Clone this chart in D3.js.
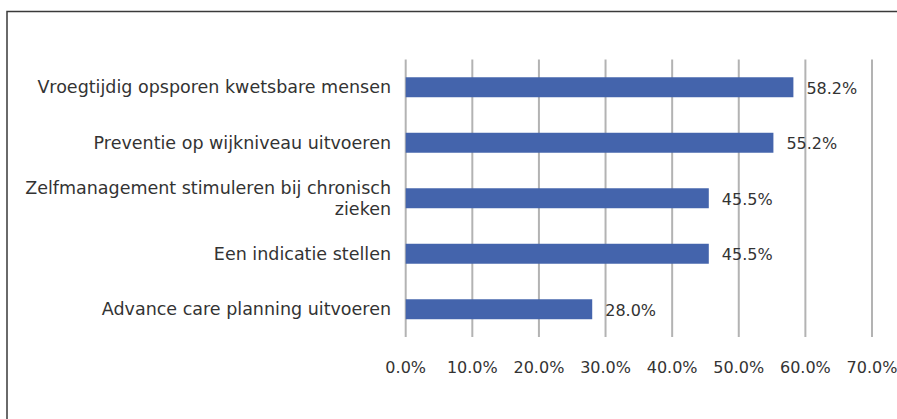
<!DOCTYPE html>
<html><head><meta charset="utf-8">
<script src="https://cdn.jsdelivr.net/npm/d3@7"></script>
<style>body{margin:0;background:#fff}svg{display:block}text{font-family:"DejaVu Sans",sans-serif;fill:#333}</style>
</head><body>
<script>
const categories = [
  "Vroegtijdig opsporen kwetsbare mensen",
  "Preventie op wijkniveau uitvoeren",
  "Zelfmanagement stimuleren bij chronisch|zieken",
  "Een indicatie stellen",
  "Advance care planning uitvoeren"
];
const values = [58.2, 55.2, 45.5, 45.5, 28.0];
const tickValues = [0, 10, 20, 30, 40, 50, 60, 70];

const W = 897, H = 419;
const svg = d3.select("body").append("svg").attr("width", W).attr("height", H);

svg.append("rect").attr("x", 7).attr("y", 11.5).attr("width", 1000).attr("height", 1000)
  .attr("fill", "none").attr("stroke", "#3a3a3a").attr("stroke-width", 1.5);

const x = d3.scaleLinear().domain([0, 70]).range([405.7, 872]);
const y = d3.scaleBand().domain(categories).range([59.5, 337]).paddingInner(0.64).paddingOuter(0.32);

const fs = 16, cfs = 17.5;

// gridlines
svg.append("g").selectAll("line").data(tickValues).join("line")
  .attr("x1", d => x(d)).attr("x2", d => x(d))
  .attr("y1", 59.5).attr("y2", 337)
  .attr("stroke", "#b3b3b3").attr("stroke-width", 2);

// tick labels
svg.append("g").selectAll("text").data(tickValues).join("text")
  .attr("x", d => x(d)).attr("y", 367).attr("dy", "0.35em")
  .attr("text-anchor", "middle").style("font-size", fs + "px")
  .text(d => d.toFixed(1) + "%");

// bars
svg.append("g").selectAll("rect").data(values).join("rect")
  .attr("x", x(0)).attr("y", (d, i) => y(categories[i]))
  .attr("width", d => x(d) - x(0)).attr("height", y.bandwidth())
  .attr("fill", "#4464ac");

// value labels
svg.append("g").selectAll("text").data(values).join("text")
  .attr("x", d => x(d) + 13).attr("y", (d, i) => y(categories[i]) + y.bandwidth() / 2 + 1)
  .attr("dy", "0.35em").style("font-size", fs + "px")
  .text(d => d.toFixed(1) + "%");

// category labels
const cat = svg.append("g").selectAll("text").data(categories).join("text")
  .attr("text-anchor", "end").style("font-size", cfs + "px")
  .attr("y", d => y(d) + y.bandwidth() / 2);
cat.each(function(d) {
  const lines = d.split("|");
  const t = d3.select(this);
  const base = y(d) + y.bandwidth() / 2 - (lines.length - 1) * 10.5;
  lines.forEach((l, k) => {
    t.append("tspan").attr("x", 391).attr("y", base + k * 21)
      .attr("dy", "0.35em")
      .text(l);
  });
});
</script>
</body></html>
